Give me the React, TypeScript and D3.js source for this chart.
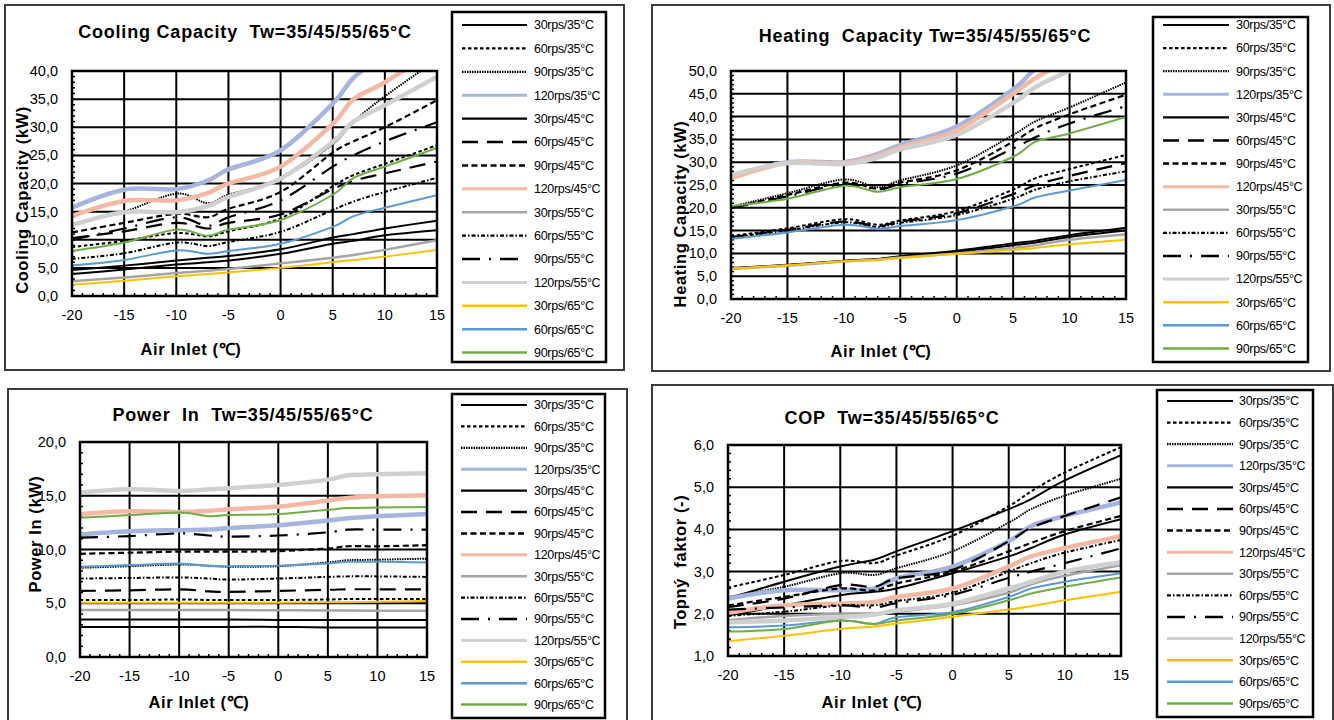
import React, { useRef, useEffect } from 'react';
import * as d3 from 'd3';

// Air inlet temperatures (°C) of the measured points
const airInlet = [-20, -15, -10, -7, -5, 0, 5, 7, 10, 15];
const xTicks = [-20, -15, -10, -5, 0, 5, 10, 15];

const seriesLabels = [
  '30rps/35°C', '60rps/35°C', '90rps/35°C', '120rps/35°C',
  '30rps/45°C', '60rps/45°C', '90rps/45°C', '120rps/45°C',
  '30rps/55°C', '60rps/55°C', '90rps/55°C', '120rps/55°C',
  '30rps/65°C', '60rps/65°C', '90rps/65°C',
];

// kW, same order as seriesLabels
const coolingCapacity = [
  [4.6, 5.4, 6.3, 6.8, 7.1, 8.3, 10.4, 11.0, 12.0, 13.4],
  [8.7, 9.8, 11.2, 10.6, 11.5, 13.8, 19.5, 21.5, 23.5, 26.8],
  [12.8, 15.0, 18.2, 16.5, 18.0, 20.8, 27.0, 31.0, 35.5, 42.0],
  [15.7, 18.9, 19.0, 20.5, 22.5, 25.9, 34.2, 38.8, 43.0, 50.0],
  [3.9, 4.7, 5.6, 6.0, 6.3, 7.5, 9.3, 9.8, 10.8, 11.7],
  [10.3, 11.5, 13.0, 12.0, 13.0, 14.5, 19.0, 20.5, 21.8, 23.9],
  [11.3, 13.0, 14.6, 14.0, 15.5, 18.5, 25.5, 27.5, 30.0, 34.8],
  [14.2, 16.9, 17.0, 18.3, 20.0, 23.0, 30.6, 35.0, 38.0, 44.0],
  [2.6, 3.3, 4.1, 4.5, 4.8, 5.8, 6.8, 7.3, 8.2, 9.9],
  [6.6, 7.6, 9.5, 8.9, 9.6, 11.4, 15.3, 16.8, 18.5, 21.0],
  [10.0, 12.0, 14.0, 12.5, 14.0, 17.0, 23.0, 25.0, 27.5, 30.9],
  [12.6, 14.9, 14.9, 16.0, 17.6, 20.9, 27.4, 31.0, 33.9, 39.0],
  [2.0, 2.7, 3.5, 3.9, 4.2, 5.0, 6.0, 6.4, 7.0, 8.2],
  [5.4, 6.4, 8.1, 7.5, 8.0, 9.3, 12.3, 14.2, 15.7, 17.9],
  [8.0, 9.5, 11.8, 10.7, 11.8, 13.5, 18.0, 21.0, 23.0, 26.3],
];

const heatingCapacity = [
  [6.8, 7.5, 8.4, 8.8, 9.4, 10.6, 12.2, 12.8, 14.0, 15.6],
  [13.8, 15.5, 17.5, 16.3, 17.2, 19.3, 24.0, 26.5, 28.5, 31.6],
  [20.2, 23.2, 26.2, 24.5, 26.0, 29.3, 36.0, 39.0, 42.0, 47.5],
  [26.8, 30.0, 30.0, 31.8, 33.8, 37.8, 46.0, 50.5, 55.0, 62.0],
  [6.7, 7.4, 8.3, 8.7, 9.2, 10.3, 11.8, 12.4, 13.6, 15.0],
  [13.6, 15.2, 17.0, 16.0, 17.0, 18.8, 23.0, 25.0, 27.0, 29.8],
  [20.0, 22.8, 25.5, 24.2, 25.5, 28.2, 34.5, 37.5, 40.5, 44.8],
  [26.5, 29.8, 29.8, 31.4, 33.3, 37.0, 45.0, 48.5, 52.5, 59.0],
  [6.6, 7.3, 8.2, 8.6, 9.1, 10.0, 11.2, 11.8, 13.0, 14.2],
  [13.5, 15.0, 16.8, 15.8, 16.7, 18.4, 22.0, 24.0, 25.8, 28.0],
  [20.0, 22.5, 25.2, 24.0, 25.2, 27.5, 33.0, 35.5, 38.5, 42.3],
  [27.2, 29.8, 29.6, 31.0, 32.8, 36.0, 43.0, 46.5, 50.0, 55.0],
  [6.7, 7.4, 8.3, 8.6, 9.0, 9.9, 10.8, 11.2, 12.0, 13.0],
  [13.2, 14.6, 16.3, 15.4, 16.0, 17.3, 20.3, 22.3, 23.8, 26.1],
  [20.4, 22.0, 24.8, 23.5, 24.5, 26.3, 31.2, 34.5, 36.3, 39.9],
];

const powerIn = [
  [2.8, 2.8, 2.8, 2.8, 2.8, 2.8, 2.75, 2.75, 2.75, 2.75],
  [5.3, 5.3, 5.35, 5.3, 5.3, 5.3, 5.35, 5.4, 5.4, 5.4],
  [8.3, 8.45, 8.6, 8.5, 8.4, 8.45, 8.8, 9.0, 9.05, 9.15],
  [11.4, 11.7, 11.8, 11.85, 12.0, 12.25, 12.7, 12.9, 13.1, 13.3],
  [3.5, 3.5, 3.5, 3.5, 3.48, 3.45, 3.45, 3.45, 3.45, 3.45],
  [6.15, 6.2, 6.3, 6.1, 6.05, 6.15, 6.25, 6.3, 6.3, 6.3],
  [9.6, 9.7, 9.8, 9.8, 9.8, 9.85, 10.1, 10.3, 10.3, 10.4],
  [13.3, 13.55, 13.5, 13.6, 13.75, 14.0, 14.55, 14.8, 14.95, 15.05],
  [4.37, 4.37, 4.37, 4.37, 4.37, 4.35, 4.33, 4.32, 4.3, 4.3],
  [7.3, 7.35, 7.4, 7.3, 7.2, 7.3, 7.45, 7.5, 7.5, 7.45],
  [11.1, 11.25, 11.5, 11.3, 11.2, 11.3, 11.6, 11.85, 11.85, 11.85],
  [15.3, 15.6, 15.45, 15.6, 15.7, 16.0, 16.5, 16.9, 17.0, 17.1],
  [5.05, 5.05, 5.05, 5.05, 5.05, 5.05, 5.1, 5.1, 5.15, 5.2],
  [8.4, 8.55, 8.7, 8.45, 8.45, 8.5, 8.7, 8.85, 8.85, 8.8],
  [12.95, 13.2, 13.45, 13.1, 13.2, 13.3, 13.7, 13.85, 13.9, 13.95],
];

const copValues = [
  [2.36, 2.76, 3.12, 3.28, 3.48, 3.96, 4.48, 4.72, 5.16, 5.76],
  [2.62, 2.92, 3.25, 3.2, 3.38, 3.85, 4.55, 4.9, 5.35, 5.95],
  [2.4, 2.64, 2.96, 2.92, 3.08, 3.48, 4.16, 4.48, 4.8, 5.2],
  [2.36, 2.56, 2.56, 2.6, 2.84, 3.12, 3.72, 4.08, 4.32, 4.64],
  [1.96, 2.2, 2.44, 2.52, 2.6, 2.96, 3.36, 3.56, 3.88, 4.24],
  [2.16, 2.36, 2.68, 2.64, 2.84, 3.04, 3.72, 4.04, 4.32, 4.76],
  [2.2, 2.4, 2.6, 2.55, 2.72, 3.0, 3.48, 3.68, 3.96, 4.32],
  [2.02, 2.2, 2.24, 2.28, 2.4, 2.6, 3.12, 3.36, 3.56, 3.84],
  [1.85, 1.95, 2.0, 2.0, 2.05, 2.2, 2.5, 2.7, 2.9, 3.15],
  [1.95, 2.05, 2.2, 2.2, 2.3, 2.5, 3.0, 3.2, 3.45, 3.75],
  [2.1, 2.15, 2.2, 2.15, 2.25, 2.45, 2.85, 3.0, 3.2, 3.55],
  [1.8, 1.84, 1.92, 1.98, 2.08, 2.24, 2.6, 2.76, 3.0, 3.22],
  [1.35, 1.48, 1.64, 1.7, 1.77, 1.93, 2.1, 2.18, 2.32, 2.52],
  [1.68, 1.72, 1.84, 1.76, 1.92, 2.04, 2.4, 2.6, 2.76, 2.96],
  [1.58, 1.64, 1.84, 1.76, 1.84, 2.0, 2.32, 2.48, 2.64, 2.86],
];

interface SeriesStyle {
  color: string;
  width: number;
  legendWidth: number;
  dash?: string;
}

const seriesStyles: SeriesStyle[] = [
  { color: '#000', width: 2, legendWidth: 2.2 },
  { color: '#000', width: 2, legendWidth: 2.2, dash: '3.5,2.5' },
  { color: '#000', width: 2, legendWidth: 2.2, dash: '1.5,1' },
  { color: '#a5b5df', width: 4.5, legendWidth: 3 },
  { color: '#000', width: 2, legendWidth: 2.2 },
  { color: '#000', width: 2.2, legendWidth: 2.5, dash: '16,9' },
  { color: '#000', width: 2.2, legendWidth: 2.5, dash: '6,3.5' },
  { color: '#f4b9a5', width: 4.5, legendWidth: 3 },
  { color: '#a5a5a5', width: 2.5, legendWidth: 2.5 },
  { color: '#000', width: 2, legendWidth: 2.2, dash: '4,2,1.5,2' },
  { color: '#000', width: 2.2, legendWidth: 2.5, dash: '18,9,2,9' },
  { color: '#d0d0d0', width: 4.5, legendWidth: 3 },
  { color: '#ffc000', width: 2, legendWidth: 2.5 },
  { color: '#5b9bd5', width: 2, legendWidth: 2.5 },
  { color: '#70ad47', width: 2, legendWidth: 2.5 },
];

interface Box { x: number; y: number; w: number; h: number }

interface PanelConfig {
  id: string;
  title: string;
  titlePos: [number, number];
  yLabel: string;
  yLabelPos: [number, number];
  xLabelPos: [number, number];
  values: number[][];
  yDomain: [number, number];
  yStep: number;
  yMinor: number;
  plot: { left: number; right: number; top: number; bottom: number };
  frame: Box;
  legend: Box;
  legendRows: { first: number; step: number; x0: number; x1: number; tx: number };
}

const panels: PanelConfig[] = [
  {
    id: 'cool',
    title: 'Cooling Capacity  Tw=35/45/55/65°C',
    titlePos: [245, 38],
    yLabel: 'Cooling Capacity (kW)',
    yLabelPos: [22, 200],
    xLabelPos: [191, 355],
    values: coolingCapacity,
    yDomain: [0, 40],
    yStep: 5,
    yMinor: 1,
    plot: { left: 72, right: 437, top: 71, bottom: 296 },
    frame: { x: 5, y: 5, w: 619, h: 365 },
    legend: { x: 452, y: 12, w: 154, h: 350 },
    legendRows: { first: 25, step: 23.4, x0: 462, x1: 527, tx: 534 },
  },
  {
    id: 'heat',
    title: 'Heating  Capacity Tw=35/45/55/65°C',
    titlePos: [925, 42],
    yLabel: 'Heating Capacity (kW)',
    yLabelPos: [680, 214],
    xLabelPos: [881, 357],
    values: heatingCapacity,
    yDomain: [0, 50],
    yStep: 5,
    yMinor: 1,
    plot: { left: 731, right: 1126, top: 71, bottom: 299 },
    frame: { x: 652, y: 5, w: 678, h: 366 },
    legend: { x: 1153, y: 17, w: 155, h: 345 },
    legendRows: { first: 25, step: 23.1, x0: 1163, x1: 1229, tx: 1236 },
  },
  {
    id: 'power',
    title: 'Power  In  Tw=35/45/55/65°C',
    titlePos: [243, 421],
    yLabel: 'Power In (kW)',
    yLabelPos: [35, 534],
    xLabelPos: [199, 708],
    values: powerIn,
    yDomain: [0, 20],
    yStep: 5,
    yMinor: 1,
    plot: { left: 80, right: 427, top: 442, bottom: 657 },
    frame: { x: 8, y: 389, w: 619, h: 345 },
    legend: { x: 452, y: 394, w: 153, h: 324 },
    legendRows: { first: 405, step: 21.4, x0: 461, x1: 527, tx: 534 },
  },
  {
    id: 'cop',
    title: 'COP  Tw=35/45/55/65°C',
    titlePos: [892, 424],
    yLabel: 'Topný  faktor (-)',
    yLabelPos: [680, 562],
    xLabelPos: [872, 708],
    values: copValues,
    yDomain: [1, 6],
    yStep: 1,
    yMinor: 0.2,
    plot: { left: 728, right: 1121, top: 445, bottom: 656 },
    frame: { x: 652, y: 385, w: 681, h: 345 },
    legend: { x: 1157, y: 390, w: 156, h: 327 },
    legendRows: { first: 401, step: 21.6, x0: 1167, x1: 1233, tx: 1239 },
  },
];

const FONT = '"Liberation Sans", Arial, sans-serif';
const fmt = (v: number) => v.toFixed(1).replace('.', ',');

function drawPanel(svg: d3.Selection<SVGSVGElement, unknown, null, undefined>, cfg: PanelConfig) {
  const { plot } = cfg;
  const g = svg.append('g').attr('font-family', FONT);

  // Outer frame
  g.append('rect')
    .attr('x', cfg.frame.x)
    .attr('y', cfg.frame.y)
    .attr('width', cfg.frame.w)
    .attr('height', cfg.frame.h)
    .attr('fill', 'none')
    .attr('stroke', '#3c3c3c')
    .attr('stroke-width', 2);

  const xScale = d3.scaleLinear().domain([-20, 15]).range([plot.left, plot.right]);
  const yScale = d3.scaleLinear().domain(cfg.yDomain).range([plot.bottom, plot.top]);
  const yTicks = d3.range(cfg.yDomain[0], cfg.yDomain[1] + 1e-9, cfg.yStep);

  // Grid
  g.append('g')
    .selectAll('line')
    .data(xTicks)
    .enter()
    .append('line')
    .attr('x1', (d) => xScale(d))
    .attr('x2', (d) => xScale(d))
    .attr('y1', plot.top)
    .attr('y2', plot.bottom)
    .attr('stroke', '#000')
    .attr('stroke-width', 2);

  g.append('g')
    .selectAll('line')
    .data(yTicks)
    .enter()
    .append('line')
    .attr('x1', plot.left)
    .attr('x2', plot.right)
    .attr('y1', (d) => yScale(d))
    .attr('y2', (d) => yScale(d))
    .attr('stroke', '#000')
    .attr('stroke-width', 2);

  // Minor ticks (inside)
  const xMinor = d3.range(-20, 15.001, 1);
  g.append('g')
    .selectAll('line')
    .data(xMinor)
    .enter()
    .append('line')
    .attr('x1', (d) => xScale(d))
    .attr('x2', (d) => xScale(d))
    .attr('y1', plot.bottom)
    .attr('y2', plot.bottom - 3)
    .attr('stroke', '#000')
    .attr('stroke-width', 1.5);

  const yMinor = d3.range(cfg.yDomain[0], cfg.yDomain[1] + 1e-9, cfg.yMinor);
  g.append('g')
    .selectAll('line')
    .data(yMinor)
    .enter()
    .append('line')
    .attr('x1', plot.left)
    .attr('x2', plot.left + 3)
    .attr('y1', (d) => yScale(d))
    .attr('y2', (d) => yScale(d))
    .attr('stroke', '#000')
    .attr('stroke-width', 1.5);

  // Series
  const clipId = `clip-${cfg.id}`;
  g.append('clipPath')
    .attr('id', clipId)
    .append('rect')
    .attr('x', plot.left)
    .attr('y', plot.top)
    .attr('width', plot.right - plot.left)
    .attr('height', plot.bottom - plot.top);

  const line = d3
    .line<number>()
    .x((_, i) => xScale(airInlet[i]))
    .y((d) => yScale(d))
    .curve(d3.curveCardinal.tension(0));

  const series = g.append('g').attr('clip-path', `url(#${clipId})`);
  cfg.values.forEach((vals, i) => {
    const st = seriesStyles[i];
    series
      .append('path')
      .datum(vals)
      .attr('fill', 'none')
      .attr('stroke', st.color)
      .attr('stroke-width', st.width)
      .attr('stroke-dasharray', st.dash || null)
      .attr('stroke-linejoin', 'round')
      .attr('d', line);
  });

  // Plot border
  g.append('rect')
    .attr('x', plot.left)
    .attr('y', plot.top)
    .attr('width', plot.right - plot.left)
    .attr('height', plot.bottom - plot.top)
    .attr('fill', 'none')
    .attr('stroke', '#000')
    .attr('stroke-width', 2.5);

  // Tick labels
  g.append('g')
    .selectAll('text')
    .data(yTicks)
    .enter()
    .append('text')
    .attr('x', plot.left - 14)
    .attr('y', (d) => yScale(d))
    .attr('dy', '0.35em')
    .attr('text-anchor', 'end')
    .attr('font-size', 14.5)
    .attr('fill', '#000')
    .text((d) => fmt(d));

  g.append('g')
    .selectAll('text')
    .data(xTicks)
    .enter()
    .append('text')
    .attr('x', (d) => xScale(d))
    .attr('y', plot.bottom + 24)
    .attr('text-anchor', 'middle')
    .attr('font-size', 14.5)
    .attr('fill', '#000')
    .text((d) => String(d));

  // Title and axis labels
  g.append('text')
    .attr('x', cfg.titlePos[0])
    .attr('y', cfg.titlePos[1])
    .attr('text-anchor', 'middle')
    .attr('font-size', 18)
    .attr('letter-spacing', 0.8)
    .attr('font-weight', 'bold')
    .style('white-space', 'pre')
    .text(cfg.title);

  g.append('text')
    .attr('transform', `translate(${cfg.yLabelPos[0]},${cfg.yLabelPos[1]}) rotate(-90)`)
    .attr('dy', '0.35em')
    .attr('text-anchor', 'middle')
    .attr('font-size', 16.5)
    .attr('letter-spacing', 0.6)
    .attr('font-weight', 'bold')
    .style('white-space', 'pre')
    .text(cfg.yLabel);

  g.append('text')
    .attr('x', cfg.xLabelPos[0])
    .attr('y', cfg.xLabelPos[1])
    .attr('text-anchor', 'middle')
    .attr('font-size', 16.5)
    .attr('letter-spacing', 0.6)
    .attr('font-weight', 'bold')
    .text('Air Inlet (℃)');

  // Legend
  g.append('rect')
    .attr('x', cfg.legend.x)
    .attr('y', cfg.legend.y)
    .attr('width', cfg.legend.w)
    .attr('height', cfg.legend.h)
    .attr('fill', '#fff')
    .attr('stroke', '#000')
    .attr('stroke-width', 2.5);

  const lr = cfg.legendRows;
  const rows = g
    .append('g')
    .selectAll('g')
    .data(seriesLabels)
    .enter()
    .append('g')
    .attr('transform', (_, i) => `translate(0,${lr.first + i * lr.step})`);

  rows
    .append('line')
    .attr('x1', lr.x0)
    .attr('x2', lr.x1)
    .attr('stroke', (_, i) => seriesStyles[i].color)
    .attr('stroke-width', (_, i) => seriesStyles[i].legendWidth)
    .attr('stroke-dasharray', (_, i) => seriesStyles[i].dash || null);

  rows
    .append('text')
    .attr('x', lr.tx)
    .attr('dy', '0.35em')
    .attr('font-size', 12.5)
    .attr('letter-spacing', -0.3)
    .attr('fill', '#000')
    .text((d) => d);
}

const App: React.FC = () => {
  const svgRef = useRef<SVGSVGElement>(null);

  useEffect(() => {
    if (!svgRef.current) return;
    const svg = d3.select(svgRef.current);
    svg.selectAll('*').remove();
    panels.forEach((p) => drawPanel(svg, p));
  }, []);

  return (
    <svg
      ref={svgRef}
      width={1334}
      height={720}
      style={{ position: 'absolute', left: 0, top: 0, background: '#fff', display: 'block' }}
    />
  );
};

export default App;
